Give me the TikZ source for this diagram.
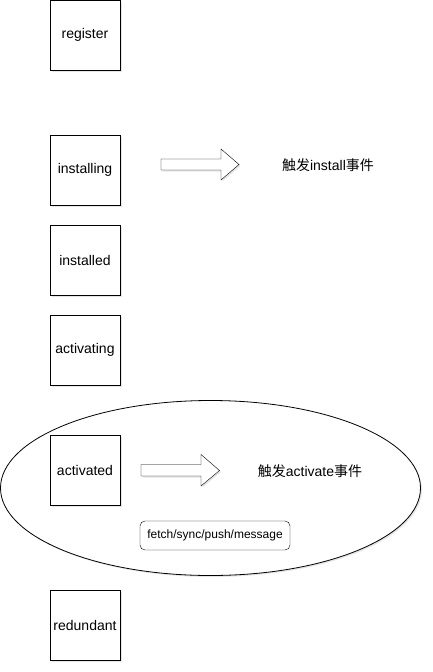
\documentclass[tikz,border=0pt]{standalone}
\usepackage{fontspec}
\setmainfont{Liberation Sans}
\newfontfamily\cjk{Noto Sans CJK SC}
\usetikzlibrary{shadows}

\tikzset{
  statebox/.style={draw,thick,fill=white,minimum width=70pt,minimum height=70pt,inner sep=0pt,font=\fontsize{14}{16}\selectfont,
    drop shadow={opacity=0.2,shadow xshift=1.5pt,shadow yshift=-1.5pt}},
  blockarrow/.style={draw,fill=white,line join=miter,
    drop shadow={opacity=0.2,shadow xshift=1.5pt,shadow yshift=-1.5pt}},
  eventtext/.style={font=\fontsize{14}{16}\selectfont},
}

\begin{document}
\begin{tikzpicture}[x=1pt,y=-1pt]
\useasboundingbox (0,0) rectangle (432,672);
% group round the activated state
\draw[thick,fill=white,drop shadow={opacity=0.2,shadow xshift=1.5pt,shadow yshift=-1.5pt}] (210.5,488) ellipse [x radius=210,y radius=87.5];
% states
\node[statebox] (register) at (85,35) {register};
\node[statebox] (installing) at (85,170) {installing};
\node[statebox] (installed) at (85,260) {installed};
\node[statebox] (activating) at (85,350) {activating};
\node[statebox] (activated) at (85,470) {activated};
\node[statebox] (redundant) at (85,625) {redundant};
% events
\draw[blockarrow] (161,159) -- (221,159) -- (221,149) -- (239,164.5) -- (221,180) -- (221,170) -- (161,170) -- cycle;
\node[eventtext] (installev) at (328,165) {{\cjk 触发}install{\cjk 事件}};
\draw[blockarrow] (141,464.5) -- (201,464.5) -- (201,454.5) -- (219.5,470.5) -- (201,486) -- (201,476) -- (141,476) -- cycle;
\node[eventtext] (activateev) at (310,471) {{\cjk 触发}activate{\cjk 事件}};
\node[draw,fill=white,rounded corners=5pt,minimum width=150pt,minimum height=29pt,inner sep=0pt,font=\fontsize{12}{14}\selectfont] (fetch) at (215,535.5) {fetch/sync/push/message};
\end{tikzpicture}
\end{document}
